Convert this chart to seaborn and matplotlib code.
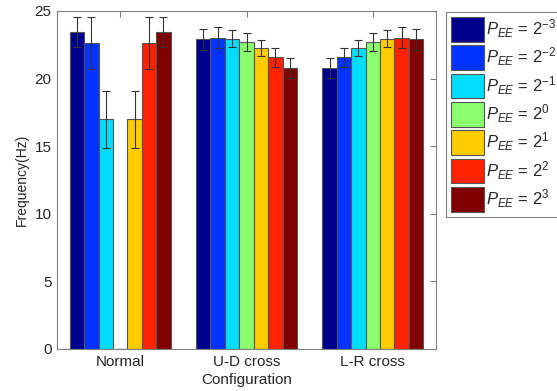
import matplotlib
matplotlib.use('Agg')
import matplotlib.pyplot as plt
import seaborn as sns
import pandas as pd

configs = ['Normal', 'U-D cross', 'L-R cross']
pee_labels = [r'$P_{EE}$ = $2^{-3}$', r'$P_{EE}$ = $2^{-2}$', r'$P_{EE}$ = $2^{-1}$',
              r'$P_{EE}$ = $2^{0}$', r'$P_{EE}$ = $2^{1}$', r'$P_{EE}$ = $2^{2}$',
              r'$P_{EE}$ = $2^{3}$']
colors = ['#00008F', '#0033FF', '#00DDFF', '#8CFF6E', '#FFCC00', '#FF2200', '#800000']

# mean frequency per configuration, one list per P_EE value
normal = [23.45, 22.63, 17.0, 0.0, 17.0, 22.63, 23.45]
ud_cross = [22.9, 23.03, 22.96, 22.7, 22.24, 21.57, 20.76]
lr_cross = [20.76, 21.57, 22.24, 22.7, 22.96, 23.03, 22.9]
# error bar half-lengths
normal_err = [1.1, 1.9, 2.1, 0.0, 2.1, 1.9, 1.1]
ud_err = [0.8, 0.75, 0.6, 0.65, 0.6, 0.7, 0.75]
lr_err = [0.75, 0.7, 0.6, 0.65, 0.6, 0.75, 0.8]

rows = []
for cfg, vals, errs in zip(configs, [normal, ud_cross, lr_cross], [normal_err, ud_err, lr_err]):
    for lab, v, e in zip(pee_labels, vals, errs):
        rows.append({'Configuration': cfg, 'Frequency': v, 'err': e, 'PEE': lab})
df = pd.DataFrame(rows)

sns.set_style('white')
plt.rcParams['font.family'] = ['Liberation Sans', 'DejaVu Sans']
plt.rcParams['mathtext.fontset'] = 'custom'
plt.rcParams['mathtext.rm'] = 'Liberation Sans'
plt.rcParams['mathtext.it'] = 'Liberation Sans:italic'
plt.rcParams['font.size'] = 11

fig = plt.figure(figsize=(5.57, 3.91), dpi=100)
ax = fig.add_axes([57 / 557, 1 - 349 / 391, (436 - 57) / 557, (349 - 11) / 391])

sns.barplot(data=df, x='Configuration', y='Frequency', hue='PEE', order=configs,
            hue_order=pee_labels, palette=colors, errorbar=None, width=0.8,
            edgecolor='#555555', linewidth=0.8, saturation=1, ax=ax)

# error bars placed on each bar
for lab, cont in zip(pee_labels, ax.containers):
    sub = df[df['PEE'] == lab].set_index('Configuration').loc[configs]
    xs = [b.get_x() + b.get_width() / 2 for b in cont]
    ax.errorbar(xs, sub['Frequency'], yerr=sub['err'], fmt='none',
                ecolor='#333333', elinewidth=0.8, capsize=3, capthick=0.8)

ax.set_xlim(-0.5, 2.5)
ax.set_ylim(0, 25)
ax.set_yticks([0, 5, 10, 15, 20, 25])
ax.set_ylabel('Frequency(Hz)', fontsize=10)
ax.set_xlabel('Configuration', fontsize=11, labelpad=3)
ax.tick_params(direction='in', top=True, right=True, length=4, color='#808080',
               labelsize=11, pad=4)
for s in ax.spines.values():
    s.set_color('#808080')
    s.set_linewidth(0.8)

ax.legend_.remove()
handles = [plt.Rectangle((0, 0), 1, 1, facecolor=c, edgecolor='#555555', linewidth=0.8)
           for c in colors]
leg = fig.legend(handles, pee_labels, loc='upper left',
                 bbox_to_anchor=(446 / 557, 1 - 12 / 391), fancybox=False,
                 edgecolor='#808080', framealpha=1, fontsize=12,
                 handlelength=2.0, handleheight=1.9, handletextpad=0.1,
                 labelspacing=0.22, borderpad=0.3, borderaxespad=0)
leg.get_frame().set_linewidth(0.8)

fig.savefig('out.png', dpi=100)
